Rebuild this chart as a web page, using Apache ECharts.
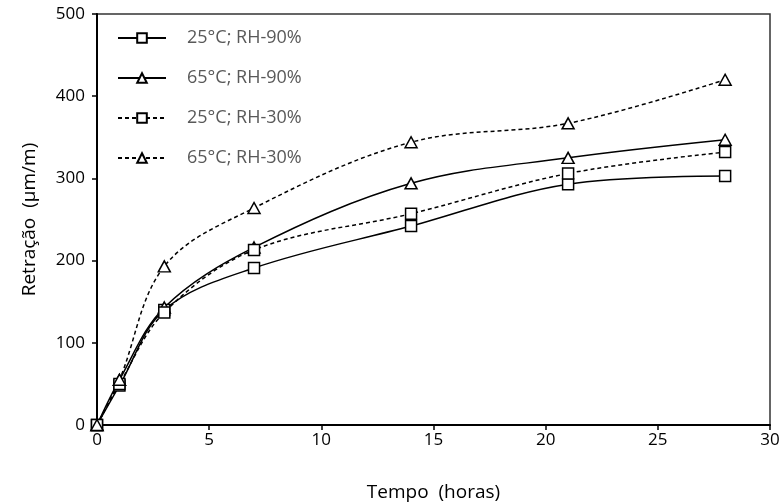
<!DOCTYPE html>
<html><head><meta charset="utf-8">
<script src="https://cdn.jsdelivr.net/npm/echarts@6/dist/echarts.min.js"></script>
<style>html,body{margin:0;padding:0;background:#fff}#c{width:783px;height:504px}</style>
</head><body><div id="c"></div>
<script>
const tempo = [0, 1, 3, 7, 14, 21, 28];
const s25_90 = [0, 48, 140, 191, 242, 293, 303];
const s65_90 = [0, 55, 143, 216, 294, 325, 347];
const s25_30 = [0, 50, 137, 213, 257, 306, 332];
const s65_30 = [0, 55, 193, 264, 344, 367, 420];
const names = ['25°C; RH-90%', '65°C; RH-90%', '25°C; RH-30%', '65°C; RH-30%'];
const FONT = '"Open Sans", "Noto Sans", sans-serif';
const sqr = 'path://M0,0 L10,0 L10,10 L0,10 Z';
const tri = 'path://M5,0 L10,10 L0,10 Z';
function mk(name, vals, sym, dashed) {
  return {
    name: name, type: 'line', smooth: 0.35,
    data: tempo.map((t, i) => [t, vals[i]]),
    symbol: sym, symbolSize: sym === sqr ? 11 : [12, 11], showAllSymbol: true,
    itemStyle: { color: '#fff', borderColor: '#000', borderWidth: 1.5 },
    lineStyle: { color: '#000', width: 1.5, type: dashed ? [4, 3] : 'solid' },
    emphasis: { disabled: true }, z: 3
  };
}
const chart = echarts.init(document.getElementById('c'));
chart.setOption({
  animation: false,
  backgroundColor: '#fff',
  grid: { left: 97, right: 13, top: 14, bottom: 79, outerBoundsMode: 'none', containLabel: false, show: true, borderColor: '#333', borderWidth: 1.5, backgroundColor: 'transparent' },
  legend: {
    orient: 'vertical', left: 117, top: 28, padding: 0, itemGap: 20, itemWidth: 48, itemHeight: 12,
    textStyle: { fontFamily: FONT, fontSize: 18, lineHeight: 20, color: '#595959', padding: [0, 0, 0, 16] },
    data: names.map((n, i) => ({ name: n }))
  },
  xAxis: {
    type: 'value', min: 0, max: 30, interval: 5,
    name: 'Tempo  (horas)', nameLocation: 'middle', nameGap: 58,
    nameTextStyle: { fontFamily: FONT, fontSize: 19, color: '#000' },
    axisLine: { lineStyle: { color: '#000', width: 2 } },
    axisTick: { show: true, length: 5, lineStyle: { color: '#000', width: 1.5 } },
    axisLabel: { fontFamily: FONT, fontSize: 17, color: '#000', margin: 7 },
    splitLine: { show: false }
  },
  yAxis: {
    type: 'value', min: 0, max: 500, interval: 100,
    name: 'Retração  (µm/m)', nameLocation: 'middle', nameGap: 58,
    nameTextStyle: { fontFamily: FONT, fontSize: 19, color: '#000' },
    axisLine: { lineStyle: { color: '#000', width: 2 } },
    axisTick: { show: true, length: 5, lineStyle: { color: '#000', width: 1.5 } },
    axisLabel: { fontFamily: FONT, fontSize: 17, color: '#000', margin: 12 },
    splitLine: { show: false }
  },
  series: [
    mk(names[0], s25_90, sqr, false),
    mk(names[1], s65_90, tri, false),
    mk(names[2], s25_30, sqr, true),
    mk(names[3], s65_30, tri, true)
  ]
});
</script></body></html>
